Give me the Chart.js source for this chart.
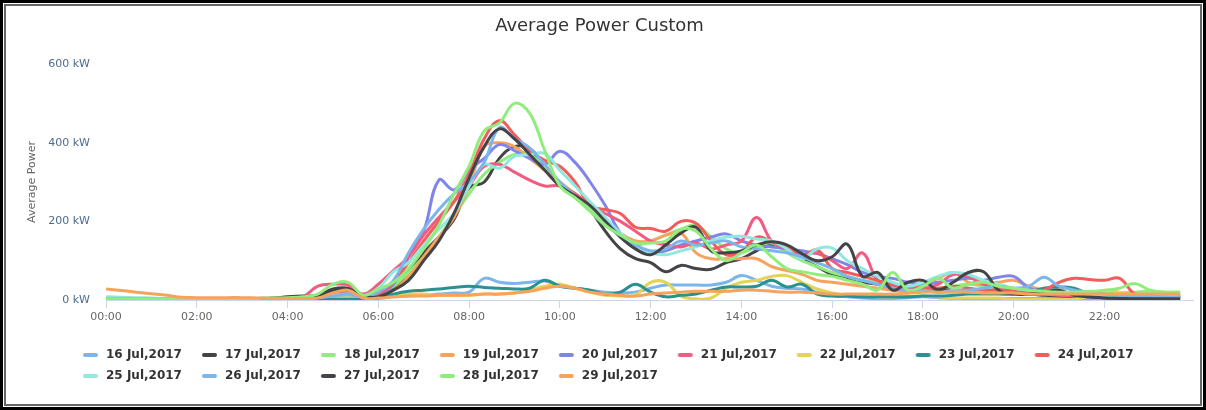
<!DOCTYPE html>
<html><head><meta charset="utf-8">
<script src="https://cdn.jsdelivr.net/npm/chart.js@4.4.1/dist/chart.umd.min.js"></script>
<style>
html,body{margin:0;padding:0;background:#fff;}
#frame{width:1206px;height:410px;box-sizing:border-box;border:3px solid #000;padding:1px;background:#fff;}
#inner{width:100%;height:100%;box-sizing:border-box;border:2px solid #666;position:relative;}
canvas{display:block;}
</style></head><body>
<div id="frame"><div id="inner"><canvas id="c" width="1194" height="398"></canvas></div></div>
<script>
const times = ["00:00","00:20","00:40","01:00","01:20","01:40","02:00","02:20","02:40","03:00","03:20","03:40",
"04:00","04:20","04:40","05:00","05:20","05:40","06:00","06:20","06:40","07:00","07:20","07:40",
"08:00","08:20","08:40","09:00","09:20","09:40","10:00","10:20","10:40","11:00","11:20","11:40",
"12:00","12:20","12:40","13:00","13:20","13:40","14:00","14:20","14:40","15:00","15:20","15:40",
"16:00","16:20","16:40","17:00","17:20","17:40","18:00","18:20","18:40","19:00","19:20","19:40",
"20:00","20:20","20:40","21:00","21:20","21:40","22:00","22:20","22:40","23:00","23:20","23:40"];

const names = ["16 Jul,2017","17 Jul,2017","18 Jul,2017","19 Jul,2017","20 Jul,2017","21 Jul,2017","22 Jul,2017",
"23 Jul,2017","24 Jul,2017","25 Jul,2017","26 Jul,2017","27 Jul,2017","28 Jul,2017","29 Jul,2017"];
const colors = ["#7cb5ec","#434348","#90ed7d","#f7a35c","#8085e9","#f15c80","#e4d354","#2b908f","#f45b5b","#91e8e1",
"#7cb5ec","#434348","#90ed7d","#f7a35c"];
const yTicks = [0,200,400,600];

const jul16 = [2,2,2,2,2,2,2,2,2,2,2,2,
 3,3,4,8,12,5,5,8,10,12,15,18,
 20,55,45,42,45,48,35,30,25,20,18,20,
 30,38,38,38,38,45,62,50,35,30,28,20,
 12,8,5,4,4,6,8,6,4,4,4,4,
 4,4,4,4,4,4,4,4,4,4,4,4];
const jul17 = [3,3,3,2,2,2,2,2,3,3,4,5,
 8,10,12,28,30,12,10,30,72,120,160,205,
 285,300,360,390,385,340,290,270,230,175,130,105,
 95,72,88,80,78,95,105,125,140,130,105,85,
 65,55,45,40,30,25,30,25,30,40,45,30,
 20,15,12,10,8,8,6,5,5,5,4,4];
const jul18 = [2,2,2,2,2,2,2,2,2,3,3,4,
 5,6,8,15,20,10,15,35,70,110,160,215,
 270,320,350,370,372,340,292,260,225,190,165,140,
 150,165,180,190,160,130,120,135,145,120,100,85,
 70,60,50,45,40,35,30,30,35,40,35,30,
 25,20,20,18,18,16,16,18,20,22,20,20];
const jul19 = [3,3,3,3,3,3,3,3,3,3,3,4,
 5,6,8,20,22,8,10,25,60,110,160,210,
 290,390,400,390,360,330,300,270,240,200,170,150,
 150,165,170,120,105,105,105,105,85,75,65,50,
 45,40,35,30,25,25,40,55,70,45,40,45,
 50,35,25,20,18,15,14,14,14,14,13,13];
const jul20 = [3,3,3,2,2,2,2,2,2,2,3,3,
 4,5,6,12,15,8,15,40,110,175,305,280,
 330,360,395,380,360,345,378,350,300,240,170,130,
 118,125,140,150,160,168,150,140,135,130,125,118,
 105,90,70,60,55,45,40,45,50,55,50,58,
 60,30,20,15,12,10,10,8,8,8,8,8];
const jul21 = [3,3,3,3,3,3,3,3,3,3,3,4,
 5,8,35,40,38,15,40,75,110,165,210,250,
 290,340,345,325,305,290,290,270,240,220,200,175,
 150,140,135,145,130,140,150,210,150,130,115,120,
 100,80,120,50,35,30,30,40,65,60,40,30,
 25,20,15,12,10,10,8,8,8,8,8,8];
const jul22 = [2,2,2,2,2,2,2,2,2,2,2,2,
 2,3,3,5,5,5,8,12,15,15,12,12,
 12,15,15,18,25,35,40,30,20,12,10,12,
 45,45,10,3,5,30,45,50,60,62,45,28,
 18,12,10,8,8,10,10,8,5,5,5,5,
 2,2,2,2,2,10,25,20,12,10,10,10];
const jul23 = [1,1,1,1,1,1,1,1,1,1,1,1,
 1,1,2,2,2,2,5,15,22,25,28,32,
 35,32,30,28,30,50,35,30,25,15,20,40,
 20,8,12,15,25,33,33,35,50,33,40,15,
 10,10,8,8,8,8,10,10,12,15,15,15,
 15,20,30,33,30,15,12,10,8,8,8,8];
const jul24 = [3,3,3,3,3,3,3,3,3,3,3,4,
 5,6,10,15,20,10,15,45,95,150,200,250,
 320,410,456,420,380,355,340,300,240,230,220,185,
 182,175,200,195,150,115,123,160,149,136,110,128,
 80,70,60,50,40,35,30,30,35,30,25,25,
 25,20,25,45,55,52,50,55,15,12,10,10];
const jul25 = [8,7,6,5,4,4,3,3,3,3,3,3,
 4,5,8,12,15,10,30,72,95,140,180,220,
 290,345,335,365,370,372,330,290,250,210,170,140,
 120,115,125,135,150,160,162,155,150,130,105,130,
 132,100,80,60,45,35,45,60,70,65,50,40,
 30,25,20,18,15,12,12,12,12,12,12,12];
const jul26 = [2,2,2,2,2,2,2,2,2,3,3,3,
 4,5,6,10,15,8,20,50,120,180,230,270,
 300,350,438,410,387,345,300,265,230,200,165,140,
 125,130,150,140,145,150,135,130,125,120,110,95,
 80,60,50,40,30,25,25,20,25,25,30,35,
 30,35,58,35,25,20,15,12,10,10,8,8];
const jul27 = [2,2,2,2,2,2,2,2,2,3,3,4,
 6,8,10,25,28,10,8,25,50,100,150,220,
 310,390,435,410,370,330,290,265,240,200,160,130,
 115,140,170,185,125,120,125,140,148,140,118,100,
 110,142,60,70,25,45,50,26,45,70,72,25,
 15,15,20,25,12,8,5,4,3,3,3,3];
const jul28 = [3,3,3,3,3,3,3,3,3,3,4,5,
 6,8,15,40,45,12,28,45,80,130,190,270,
 340,430,450,500,475,380,290,260,230,190,165,145,
 145,150,180,175,130,100,120,140,110,80,72,65,
 60,50,40,25,70,25,35,55,30,40,45,35,
 30,25,22,20,20,22,24,30,42,25,20,20];
const jul29 = [28,24,20,16,12,7,6,6,6,6,5,4,
 4,4,5,18,25,5,5,8,10,10,12,12,
 13,15,15,18,22,30,35,30,20,15,12,10,
 15,18,20,22,22,22,25,25,22,20,20,18,
 15,15,15,15,15,18,20,20,20,20,18,18,
 18,15,15,15,15,15,15,15,15,15,15,15];

const series = [jul16,jul17,jul18,jul19,jul20,jul21,jul22,jul23,jul24,jul25,jul26,jul27,jul28,jul29];

const FONT = "'DejaVu Sans', 'Lucida Grande', sans-serif";
const SYM_W = 28;
function legendSymbol(color){
  const c = document.createElement('canvas');
  c.width = SYM_W; c.height = 6;
  const g = c.getContext('2d');
  g.fillStyle = color;
  g.beginPath();
  g.roundRect(SYM_W-17, 1, 15, 4, 2);
  g.fill();
  return c;
}
const hours = t => { const [h,m] = t.split(':').map(Number); return h + m/60; };

const datasets = series.map((vals,i) => ({
  label: names[i],
  data: vals.map((v,j) => ({x: hours(times[j]), y: v})),
  borderColor: colors[i],
  backgroundColor: colors[i],
  borderWidth: 3,
  tension: 0.4,
  pointRadius: 0,
  pointHoverRadius: 0,
  pointStyle: legendSymbol(colors[i]),
  fill: false,
  order: series.length - i
}));

const legendShift = { id: 'legendShift', afterLayout(chart){ if (chart.legend) chart.legend.left = 57; } };

new Chart(document.getElementById('c'), {
  type: 'line',
  data: { datasets },
  plugins: [legendShift],
  options: {
    responsive: false,
    animation: false,
    events: [],
    layout: { padding: { left: 0, right: 7, top: 0, bottom: 12 } },
    plugins: {
      title: { display: true, text: 'Average Power Custom', color: '#333333',
        font: { family: FONT, size: 18, weight: 'normal' }, padding: { top: 10, bottom: 26.4 } },
      legend: { position: 'bottom', align: 'start',
        labels: { usePointStyle: true, pointStyleWidth: SYM_W, padding: 9, color: '#333333',
          font: { family: FONT, size: 12, weight: 'bold' },
          sort: (a, b) => a.datasetIndex - b.datasetIndex } },
      tooltip: { enabled: false }
    },
    scales: {
      x: { type: 'linear', min: 0, max: 23.95,
        ticks: { stepSize: 2, includeBounds: false, autoSkip: false, maxRotation: 0, padding: 3,
          color: '#666666', font: { family: FONT, size: 11 },
          callback: v => String(v).padStart(2, '0') + ':00' },
        grid: { display: true, drawOnChartArea: false, drawTicks: true, tickLength: 8, color: '#ccd6eb' },
        border: { display: true, color: '#ccd6eb', width: 1 },
        afterFit: s => { s.height = 40; } },
      y: { min: 0, max: 600,
        afterBuildTicks: s => { s.ticks = yTicks.map(v => ({ value: v })); },
        ticks: { padding: 16, color: '#4d6b8c', font: { family: FONT, size: 11 },
          callback: v => v + ' kW' },
        grid: { display: false, drawTicks: false },
        border: { display: false },
        title: { display: true, text: 'Average Power', color: '#666666',
          font: { family: FONT, size: 11 }, padding: { top: 20, bottom: 0 } },
        afterFit: s => { s.width = 100; } }
    }
  }
});
</script>
</body></html>
